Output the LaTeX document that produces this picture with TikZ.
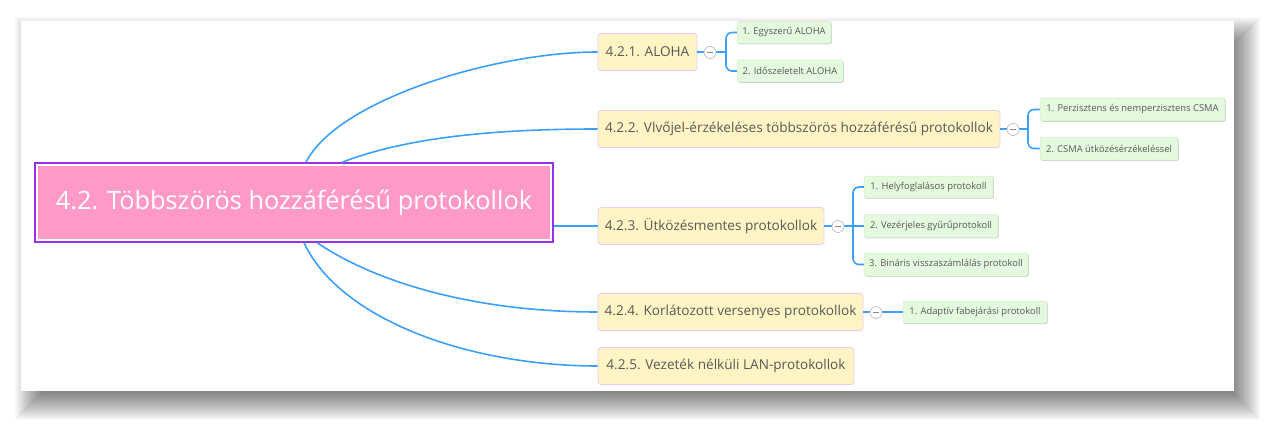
\documentclass[tikz,border=0pt]{standalone}
\usepackage{fontspec}
\setmainfont{Open Sans}
\usetikzlibrary{shadows}
\definecolor{connblue}{RGB}{60,160,250}
\definecolor{rootpink}{RGB}{255,153,200}
\definecolor{rootpurple}{RGB}{150,50,235}
\definecolor{topicfill}{RGB}{255,245,196}
\definecolor{topicborder}{RGB}{236,202,242}
\definecolor{subfill}{RGB}{228,250,222}
\definecolor{subborder}{RGB}{212,232,206}
\definecolor{textgray}{RGB}{88,88,88}
\definecolor{togglegray}{RGB}{190,190,190}
\tikzset{
  rootbox/.style={draw=rootpurple, line width=1.4, fill=rootpink, minimum width=518, minimum height=79, inner sep=0, text=white, font=\fontsize{25.3}{30}\selectfont},
  topic/.style={draw=topicborder, line width=0.8, fill=topicfill, rounded corners=3, minimum height=37, inner sep=0, text=textgray, font=\fontsize{13.6}{16}\selectfont},
  sub/.style={fill=subfill, draw=subborder, line width=0.5, rounded corners=2, minimum height=22, inner sep=0, text=textgray, font=\fontsize{9.4}{11}\selectfont, drop shadow={shadow xshift=0.8pt, shadow yshift=-0.8pt, opacity=0.3, fill=black!60}},
  conn/.style={draw=connblue, line width=2},
  curve/.style={draw=connblue, line width=1.6},
  toggle/.style={circle, draw=togglegray, fill=white, line width=0.7, minimum size=12, inner sep=0},
}
\begin{document}
\begin{tikzpicture}[x=1pt,y=-1pt]
\useasboundingbox (0,0) rectangle (1276,433);
\fill[white] (0,0) rectangle (1276,433);
% canvas shadow
\foreach \i in {0,...,28} \fill[black,opacity=0.021] (43-\i,45-\i) rectangle (1232+\i,392+\i);
\fill[white] (21,21) rectangle (1234,391);

% root
\node[rootbox] (root) at (294,202.5) {4.2. Többszörös hozzáférésű protokollok};
\draw[white, line width=1.5] ([shift={(2.5,2.5)}]root.north west) rectangle ([shift={(-2.5,-2.5)}]root.south east);

% topics
\node[topic, minimum width=99]  (a) at (647.5,52) {4.2.1. ALOHA};
\node[topic, minimum width=402] (b) at (799,129) {4.2.2. Vlvőjel-érzékeléses többszörös hozzáférésű protokollok};
\node[topic, minimum width=226] (c) at (711,226) {4.2.3. Ütközésmentes protokollok};
\node[topic, minimum width=265] (d) at (730.5,312) {4.2.4. Korlátozott versenyes protokollok};
\node[topic, minimum width=256] (e) at (726,366) {4.2.5. Vezeték nélküli LAN-protokollok};

% subtopics
\node[sub, minimum width=94]  (a1) at (784,32.5) {1. Egyszerű ALOHA};
\node[sub, minimum width=106] (a2) at (790,71) {2. Időszeletelt ALOHA};
\node[sub, minimum width=185, minimum height=23] (b1) at (1132.5,109.5) {1. Perzisztens és nemperzisztens CSMA};
\node[sub, minimum width=138, minimum height=23] (b2) at (1109,148.5) {2. CSMA ütközésérzékeléssel};
\node[sub, minimum width=129] (c1) at (928.5,187) {1. Helyfoglalásos protokoll};
\node[sub, minimum width=134, minimum height=23] (c2) at (931,226) {2. Vezérjeles gyűrűprotokoll};
\node[sub, minimum width=164, minimum height=23] (c3) at (946,264.5) {3. Bináris visszaszámlálás protokoll};
\node[sub, minimum width=144] (d1) at (975,312) {1. Adaptív fabejárási protokoll};

% main connectors
\draw[curve] ([xshift=12]root.north) .. controls (337,100) and (495,52) .. (a.west);
\draw[curve] ([xshift=48]root.north) .. controls (400,140) and (480,129) .. (b.west);
\draw[conn] (root.east |- c.west) -- (c.west);
\draw[curve] ([xshift=23]root.south) .. controls (380,285) and (480,312) .. (d.west);
\draw[curve] ([xshift=10]root.south) .. controls (340,320) and (470,366) .. (e.west);

% junctions
\coordinate (ja) at (726,52);
\coordinate (jb) at (1028,129);
\coordinate (jc) at (853,226);

% branch connectors
\draw[conn] (a.east) -- (ja);
\draw[curve, rounded corners=6] (a1.west) -| (ja) |- (a2.west);

\draw[conn] (b.east) -- (jb);
\draw[curve, rounded corners=6] (b1.west) -| (jb) |- (b2.west);

\draw[conn] (c.east) -- (c2.west);
\draw[curve, rounded corners=6] (c1.west) -| (jc) |- (c3.west);

\draw[conn] (d.east) -- (d1.west);

% toggles
\node[toggle] (ta) at (710,52.5) {};
\node[toggle] (tb) at (1013,129.5) {};
\node[toggle] (tc) at (838,226.5) {};
\node[toggle] (td) at (876,312.5) {};
\foreach \t in {ta,tb,tc,td}
  \draw[textgray!70, line width=0.9] ([xshift=-3]\t.center) -- ([xshift=3]\t.center);
\end{tikzpicture}
\end{document}
